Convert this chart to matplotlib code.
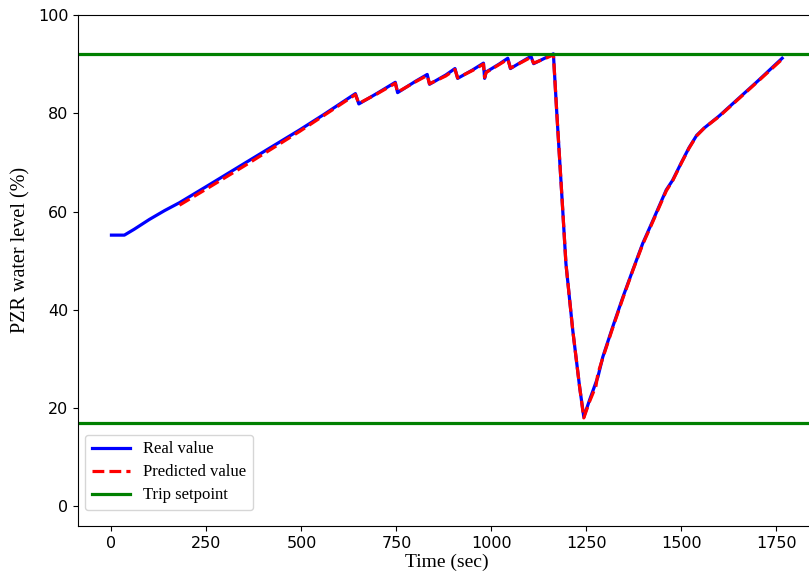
import matplotlib
matplotlib.use('Agg')
import matplotlib.pyplot as plt

# Real PZR level (time in sec, level in %)
real_t = [0, 34, 60, 100, 140, 179, 250, 350, 495, 560, 642, 651, 700, 747, 753,
          800, 831, 837, 880, 904, 911, 950, 979, 982, 986, 1020, 1043, 1050,
          1080, 1104, 1111, 1140, 1163, 1172, 1186, 1196, 1214, 1232, 1243,
          1258, 1280, 1293, 1319, 1346, 1372, 1398, 1425, 1460, 1477, 1500,
          1520, 1540, 1560, 1600, 1650, 1700, 1765]
real_y = [55.2, 55.2, 56.4, 58.4, 60.2, 61.8, 65.1, 69.8, 76.6, 79.8, 84.0, 81.9,
          84.1, 86.3, 84.2, 86.5, 87.9, 85.9, 87.8, 89.1, 87.1, 88.8, 90.2, 87.1,
          88.4, 90.0, 91.2, 89.1, 90.5, 91.6, 90.1, 91.2, 92.1, 80.0, 62.3, 49.4,
          35.8, 24.3, 18.2, 21.6, 26.3, 30.4, 36.5, 42.6, 48.1, 53.5, 58.2, 64.4,
          66.4, 70.0, 73.0, 75.5, 77.0, 79.5, 83.0, 86.5, 91.2]

# Predicted PZR level
pred_t = [179, 250, 350, 495, 560, 642, 651, 700, 747, 753, 800, 831, 837, 880,
          904, 911, 950, 979, 982, 986, 1020, 1043, 1050, 1080, 1104, 1111, 1140,
          1163, 1172, 1186, 1196, 1214, 1232, 1243, 1258, 1275, 1280, 1293, 1319,
          1346, 1372, 1398, 1425, 1460, 1477, 1500, 1520, 1540, 1560, 1600, 1650,
          1700, 1765]
pred_y = [61.3, 64.6, 69.3, 76.3, 79.6, 83.8, 82.0, 84.0, 86.1, 84.3, 86.4, 87.7,
          86.0, 87.6, 88.9, 87.2, 88.7, 90.0, 87.3, 88.3, 89.9, 91.0, 89.2, 90.4,
          91.4, 90.2, 91.1, 91.9, 80.0, 62.3, 49.4, 35.8, 24.3, 18.0, 21.3, 24.5,
          27.0, 30.2, 36.3, 42.4, 48.0, 53.3, 58.0, 64.2, 66.3, 69.9, 72.9, 75.4,
          77.0, 79.4, 82.9, 86.4, 91.0]

trip_high = 92
trip_low = 17

fig = plt.figure(figsize=(8.09, 5.75), dpi=100)
ax = fig.add_axes([78 / 809, 49 / 575, 737.6 / 809, 511 / 575])

ax.plot(real_t, real_y, color='blue', lw=2.3, label='Real value')
ax.plot(pred_t, pred_y, color='red', lw=2.3, ls='--', label='Predicted value')
ax.axhline(trip_high, color='green', lw=2.3, label='Trip setpoint')
ax.axhline(trip_low, color='green', lw=2.3)

ax.set_xlim(-88, 1853)
ax.set_ylim(-4, 100)
ax.set_xticks([0, 250, 500, 750, 1000, 1250, 1500, 1750])
ax.set_yticks([0, 20, 40, 60, 80, 100])
ax.tick_params(labelsize=11.5)

ax.set_xlabel('Time (sec)', family='Liberation Serif', fontsize=14, labelpad=2)
ax.set_ylabel('PZR water level (%)', family='Liberation Serif', fontsize=14.5)
ax.yaxis.set_label_coords(-0.064, 0.54)
ax.legend(loc='lower left', bbox_to_anchor=(0.0095, 0.031), borderaxespad=0,
          prop={'family': 'Liberation Serif', 'size': 12},
          labelspacing=0.42, handlelength=2.3)

fig.savefig('out.png', dpi=100)
